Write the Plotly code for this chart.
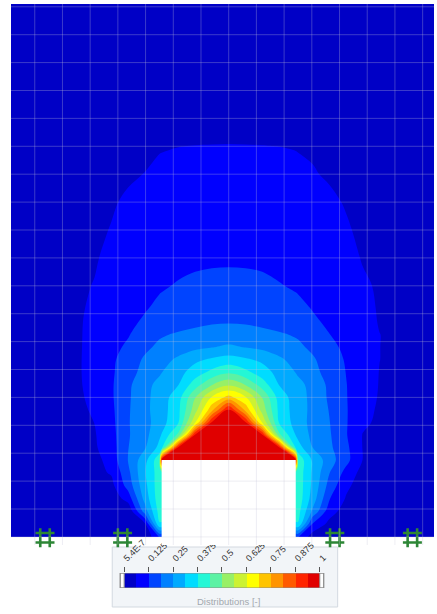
import plotly.graph_objects as go

# Grid of the distribution field (x, y in grid units; the footing is centred on x = 0)
x_nodes = [-7.9, -7.26, -6.655, -6.05, -5.445, -4.84, -4.235, -3.63, -3.025, -2.5, -2.42,
           -1.815, -1.21, -0.605, 0.0, 0.605, 1.21, 1.815, 2.42, 2.5, 3.025, 3.63, 4.235,
           4.84, 5.445, 6.05, 6.655, 7.26, 7.9]
y_nodes = [0.0, 0.46, 0.92, 1.38, 1.84, 2.3, 2.76, 3.21, 3.655, 4.1, 4.55, 5.0, 5.45, 5.9,
           6.35, 6.8, 7.25, 7.7, 8.2, 9.0, 10.0, 11.0, 12.0, 13.0, 14.0, 15.0, 16.5, 19.2]

# One row of values per y node, ordered like x_nodes
z_rows = [
    [0.005, 0.005, 0.005, 0.005, 0.005, 0.005, 0.005, 0.005, 0.005, 0.13, 0.13, 0.13, 0.13, 0.13, 0.13, 0.13, 0.13, 0.13, 0.13, 0.13, 0.03, 0.01, 0.005, 0.005, 0.005, 0.005, 0.005, 0.005, 0.005],
    [0.005, 0.005, 0.005, 0.006, 0.006, 0.007, 0.008, 0.01, 0.05, 0.37, 0.37, 0.37, 0.37, 0.37, 0.37, 0.37, 0.37, 0.37, 0.37, 0.37, 0.12, 0.045, 0.01, 0.008, 0.007, 0.006, 0.006, 0.005, 0.005],
    [0.005, 0.005, 0.006, 0.006, 0.007, 0.008, 0.009, 0.01, 0.219, 0.4, 0.4, 0.4, 0.4, 0.4, 0.4, 0.4, 0.4, 0.4, 0.4, 0.4, 0.24, 0.09, 0.035, 0.015, 0.01, 0.008, 0.007, 0.006, 0.006],
    [0.007, 0.008, 0.009, 0.01, 0.012, 0.015, 0.02, 0.09, 0.273, 0.415, 0.415, 0.415, 0.415, 0.415, 0.415, 0.415, 0.415, 0.415, 0.415, 0.415, 0.285, 0.13, 0.058, 0.03, 0.018, 0.013, 0.01, 0.009, 0.008],
    [0.011, 0.013, 0.015, 0.018, 0.022, 0.03, 0.045, 0.15, 0.294, 0.415, 0.415, 0.415, 0.415, 0.415, 0.415, 0.415, 0.415, 0.415, 0.415, 0.415, 0.3, 0.165, 0.075, 0.035, 0.025, 0.02, 0.016, 0.014, 0.012],
    [0.016, 0.019, 0.022, 0.028, 0.035, 0.045, 0.068, 0.171, 0.307, 0.41, 0.41, 0.41, 0.41, 0.41, 0.41, 0.415, 0.415, 0.415, 0.415, 0.415, 0.305, 0.19, 0.105, 0.04, 0.032, 0.026, 0.021, 0.018, 0.015],
    [0.015, 0.018, 0.02, 0.025, 0.03, 0.04, 0.09, 0.19, 0.29, 0.42, 0.95, 1.0, 1.0, 1.0, 1.0, 1.0, 1.0, 1.0, 0.95, 0.42, 0.305, 0.215, 0.145, 0.061, 0.04, 0.03, 0.025, 0.02, 0.017],
    [0.018, 0.023, 0.028, 0.034, 0.042, 0.055, 0.0976, 0.1856, 0.243, 0.33, 0.34, 0.95, 1.0, 1.0, 1.0, 1.0, 1.0, 0.95, 0.35, 0.34, 0.25, 0.2, 0.14, 0.06, 0.045, 0.036, 0.03, 0.025, 0.02],
    [0.019, 0.024, 0.029, 0.036, 0.045, 0.058, 0.1027, 0.182, 0.2298, 0.302, 0.316, 0.454, 0.95, 1.0, 1.0, 1.0, 0.95, 0.454, 0.31, 0.295, 0.235, 0.195, 0.13, 0.06, 0.046, 0.037, 0.03, 0.025, 0.02],
    [0.02, 0.025, 0.03, 0.038, 0.048, 0.0632, 0.1077, 0.1828, 0.2298, 0.2784, 0.2875, 0.373, 0.62, 0.95, 1.0, 0.95, 0.62, 0.373, 0.2875, 0.2784, 0.232, 0.19, 0.13, 0.075, 0.05, 0.04, 0.032, 0.026, 0.021],
    [0.021, 0.026, 0.032, 0.04, 0.05, 0.0701, 0.1122, 0.1808, 0.235, 0.2773, 0.2836, 0.361, 0.5375, 0.733, 0.95, 0.733, 0.5375, 0.361, 0.2836, 0.2773, 0.235, 0.185, 0.13, 0.08, 0.055, 0.043, 0.034, 0.028, 0.022],
    [0.024, 0.029, 0.035, 0.043, 0.052, 0.0788, 0.1166, 0.1784, 0.234, 0.2757, 0.2816, 0.351, 0.4975, 0.633, 0.71, 0.633, 0.4975, 0.351, 0.2816, 0.2757, 0.234, 0.1784, 0.128, 0.088, 0.058, 0.046, 0.037, 0.03, 0.025],
    [0.026, 0.031, 0.037, 0.045, 0.055, 0.083, 0.1173, 0.174, 0.2346, 0.264, 0.2694, 0.3115, 0.409, 0.498, 0.553, 0.498, 0.409, 0.3115, 0.2694, 0.264, 0.2346, 0.174, 0.127, 0.09, 0.06, 0.048, 0.038, 0.032, 0.027],
    [0.027, 0.032, 0.038, 0.046, 0.056, 0.0849, 0.1156, 0.1625, 0.2089, 0.2434, 0.2487, 0.2906, 0.343, 0.392, 0.427, 0.392, 0.343, 0.2906, 0.2487, 0.2434, 0.2089, 0.1625, 0.124, 0.092, 0.061, 0.049, 0.039, 0.033, 0.028],
    [0.028, 0.033, 0.039, 0.047, 0.056, 0.0846, 0.1137, 0.1539, 0.1966, 0.224, 0.2281, 0.2616, 0.2994, 0.323, 0.339, 0.323, 0.2994, 0.2616, 0.2281, 0.224, 0.1966, 0.1539, 0.12, 0.092, 0.063, 0.05, 0.04, 0.034, 0.029],
    [0.03, 0.035, 0.041, 0.048, 0.056, 0.082, 0.105, 0.137, 0.175, 0.2, 0.203, 0.22, 0.235, 0.248, 0.259, 0.248, 0.235, 0.22, 0.203, 0.2, 0.175, 0.142, 0.112, 0.088, 0.063, 0.052, 0.043, 0.036, 0.031],
    [0.031, 0.036, 0.042, 0.049, 0.056, 0.08, 0.1, 0.12, 0.162, 0.18, 0.182, 0.195, 0.205, 0.213, 0.217, 0.213, 0.205, 0.195, 0.182, 0.18, 0.162, 0.126, 0.1, 0.082, 0.063, 0.055, 0.045, 0.038, 0.032],
    [0.032, 0.037, 0.043, 0.05, 0.057, 0.075, 0.097, 0.114, 0.132, 0.147, 0.149, 0.162, 0.173, 0.181, 0.184, 0.181, 0.173, 0.162, 0.149, 0.147, 0.132, 0.118, 0.097, 0.078, 0.06, 0.052, 0.044, 0.038, 0.033],
    [0.033, 0.038, 0.044, 0.049, 0.056, 0.071, 0.09, 0.105, 0.121, 0.135, 0.137, 0.149, 0.159, 0.166, 0.169, 0.166, 0.159, 0.149, 0.137, 0.135, 0.123, 0.107, 0.091, 0.074, 0.059, 0.051, 0.045, 0.039, 0.034],
    [0.038, 0.041, 0.045, 0.049, 0.055, 0.0645, 0.083, 0.097, 0.109, 0.119, 0.12, 0.129, 0.137, 0.143, 0.145, 0.143, 0.137, 0.1275, 0.12, 0.119, 0.109, 0.097, 0.084, 0.068, 0.058, 0.05, 0.046, 0.042, 0.038],
    [0.037, 0.04, 0.043, 0.047, 0.052, 0.058, 0.075, 0.087, 0.097, 0.104, 0.105, 0.11, 0.113, 0.1145, 0.115, 0.1145, 0.113, 0.11, 0.105, 0.104, 0.097, 0.087, 0.075, 0.06, 0.053, 0.048, 0.044, 0.041, 0.038],
    [0.036, 0.039, 0.042, 0.046, 0.05, 0.056, 0.064, 0.077, 0.087, 0.094, 0.095, 0.1, 0.104, 0.1055, 0.106, 0.1055, 0.104, 0.1, 0.095, 0.094, 0.087, 0.077, 0.0655, 0.057, 0.051, 0.047, 0.043, 0.04, 0.037],
    [0.034, 0.037, 0.04, 0.044, 0.048, 0.053, 0.059, 0.0675, 0.076, 0.0825, 0.083, 0.087, 0.09, 0.0915, 0.092, 0.0915, 0.09, 0.087, 0.083, 0.0825, 0.076, 0.0675, 0.0605, 0.054, 0.049, 0.045, 0.041, 0.038, 0.035],
    [0.033, 0.036, 0.039, 0.042, 0.046, 0.05, 0.054, 0.058, 0.063, 0.067, 0.0675, 0.072, 0.075, 0.0765, 0.077, 0.0765, 0.075, 0.072, 0.0675, 0.067, 0.0645, 0.0595, 0.055, 0.051, 0.047, 0.043, 0.04, 0.037, 0.034],
    [0.032, 0.035, 0.038, 0.042, 0.045, 0.048, 0.052, 0.055, 0.058, 0.0608, 0.061, 0.0622, 0.063, 0.0634, 0.0636, 0.0634, 0.063, 0.0624, 0.0615, 0.0612, 0.059, 0.056, 0.053, 0.049, 0.046, 0.043, 0.039, 0.036, 0.033],
    [0.028, 0.03, 0.032, 0.034, 0.036, 0.038, 0.04, 0.042, 0.044, 0.046, 0.046, 0.048, 0.049, 0.0498, 0.05, 0.0498, 0.049, 0.048, 0.046, 0.046, 0.044, 0.042, 0.04, 0.038, 0.036, 0.034, 0.032, 0.03, 0.028],
    [0.024, 0.025, 0.026, 0.027, 0.028, 0.029, 0.03, 0.031, 0.032, 0.033, 0.033, 0.034, 0.0345, 0.035, 0.035, 0.035, 0.0345, 0.034, 0.033, 0.033, 0.032, 0.031, 0.03, 0.029, 0.028, 0.027, 0.026, 0.025, 0.024],
    [0.015, 0.015, 0.016, 0.016, 0.017, 0.017, 0.018, 0.018, 0.019, 0.019, 0.019, 0.02, 0.02, 0.02, 0.02, 0.02, 0.02, 0.02, 0.019, 0.019, 0.019, 0.018, 0.018, 0.017, 0.017, 0.016, 0.016, 0.015, 0.015],
]
assert len(z_rows) == len(y_nodes)
assert all(len(row) == len(x_nodes) for row in z_rows)

# Contour levels and the colour of each band between them
levels = [0.0, 0.0625, 0.125, 0.1875, 0.25, 0.3125, 0.375, 0.4375, 0.5,
          0.5625, 0.625, 0.6875, 0.75, 0.8125, 0.875, 0.9375, 1.0]
band_colors = ["#0000C6", "#0000FF", "#0044FF", "#0080FF", "#00AAFF", "#00DCFF",
               "#24F7D6", "#5CF2A4", "#98F066", "#CCF232", "#FFFF00", "#FFC400",
               "#FF9400", "#FF5A00", "#FF2400", "#E00000"]
tick_values = [0.0, 0.125, 0.25, 0.375, 0.5, 0.625, 0.75, 0.875, 1.0]
tick_labels = ["5.4E-7", "0.125", "0.25", "0.375", "0.5", "0.625", "0.75", "0.875", "1"]

# Footing outline and support symbols
footing = dict(x0=-2.42, x1=2.42, y0=-0.29, y1=2.76)
support_x = [-6.63, -3.83, 3.83, 6.63]
support_y = [-0.03, -0.03, -0.03, -0.03]

FONT = "Liberation Sans, Arial, sans-serif"
W, H = 437, 614

n_bands = len(band_colors)
stepped = []
for i, c in enumerate(band_colors):
    stepped.append([i / n_bands, c])
    stepped.append([(i + 1) / n_bands, c])
band_mids = [(a + b) / 2 for a, b in zip(levels[:-1], levels[1:])]

fig = go.Figure()

fig.add_trace(go.Contour(
    x=x_nodes, y=y_nodes, z=z_rows,
    colorscale=stepped, autocontour=False,
    contours=dict(start=levels[1], end=levels[-2], size=levels[1] - levels[0],
                  coloring="fill", showlines=False),
    line=dict(width=0, smoothing=1),
    showscale=False, hoverinfo="skip",
))

fig.add_trace(go.Scatter(
    x=support_x, y=support_y, mode="markers",
    marker=dict(symbol="hash-open", size=19, color="#2d8636",
                line=dict(width=2.6, color="#2d8636")),
    cliponaxis=False, hoverinfo="skip", showlegend=False,
))

# Horizontal legend bar
fig.add_trace(go.Heatmap(
    x=levels, y=[0, 1], z=[band_mids],
    colorscale=stepped, zmin=levels[0], zmax=levels[-1],
    showscale=False, hoverinfo="skip", xaxis="x2", yaxis="y2",
))

shapes = []
# legend panel
shapes.append(dict(type="rect", xref="paper", yref="paper",
                   x0=113 / W, x1=340 / W, y0=7 / H, y1=67 / H,
                   fillcolor="#f2f5f8", line=dict(color="#d3d9e0", width=1), layer="below"))
# footing
shapes.append(dict(type="rect", xref="x", yref="y", **footing,
                   fillcolor="white", line=dict(width=0), layer="above"))
# mesh grid drawn over the field
grid_color = "rgba(196,196,214,0.30)"
for gx in range(-7, 8):
    shapes.append(dict(type="line", xref="x", yref="y domain", x0=gx, x1=gx, y0=0, y1=1,
                       line=dict(color=grid_color, width=1), layer="above"))
for gy in range(0, 20):
    shapes.append(dict(type="line", xref="x domain", yref="y", x0=0, x1=1, y0=gy, y1=gy,
                       line=dict(color=grid_color, width=1), layer="above"))
# out-of-range caps and outline of the legend bar
cap = 0.0203
for x0, x1 in [(-cap, 0.0), (1.0, 1.0 + cap)]:
    shapes.append(dict(type="rect", xref="x2", yref="y2", x0=x0, x1=x1, y0=0, y1=1,
                       fillcolor="white", line=dict(color="#8c8c8c", width=1), layer="above"))
shapes.append(dict(type="rect", xref="x2", yref="y2", x0=-cap, x1=1.0 + cap, y0=0, y1=1,
                   line=dict(color="#8c8c8c", width=1), layer="above"))

fig.update_layout(
    width=W, height=H, autosize=False,
    margin=dict(l=0, r=0, t=0, b=0),
    paper_bgcolor="white", plot_bgcolor="white",
    font=dict(family=FONT),
    showlegend=False,
    xaxis=dict(domain=[11 / W, 1.0], range=[-7.86, 7.41], showgrid=False, zeroline=False,
               showticklabels=False, ticks="", showline=False, fixedrange=True),
    yaxis=dict(domain=[69 / H, 610 / H], range=[-0.29, 19.1], showgrid=False, zeroline=False,
               showticklabels=False, ticks="", showline=False, fixedrange=True),
    xaxis2=dict(domain=[120 / W, 327 / W], range=[-0.0254, 1.0254], anchor="y2", side="top",
                tickmode="array", tickvals=tick_values, ticktext=tick_labels, tickangle=-45,
                ticks="outside", ticklen=5, tickwidth=1, tickcolor="#555555",
                tickfont=dict(size=9, color="#333333", family=FONT),
                showgrid=False, zeroline=False, showline=False, fixedrange=True),
    yaxis2=dict(domain=[26 / H, 41 / H], range=[0, 1], anchor="x2", visible=False,
                fixedrange=True),
    shapes=shapes,
    annotations=[dict(text="Distributions [-]", xref="paper", yref="paper",
                      x=230 / W, y=13 / H, xanchor="center", yanchor="middle",
                      showarrow=False, font=dict(size=9.5, color="#a3a8ae", family=FONT))],
)

fig.write_html("out.html", config={"displayModeBar": False})
